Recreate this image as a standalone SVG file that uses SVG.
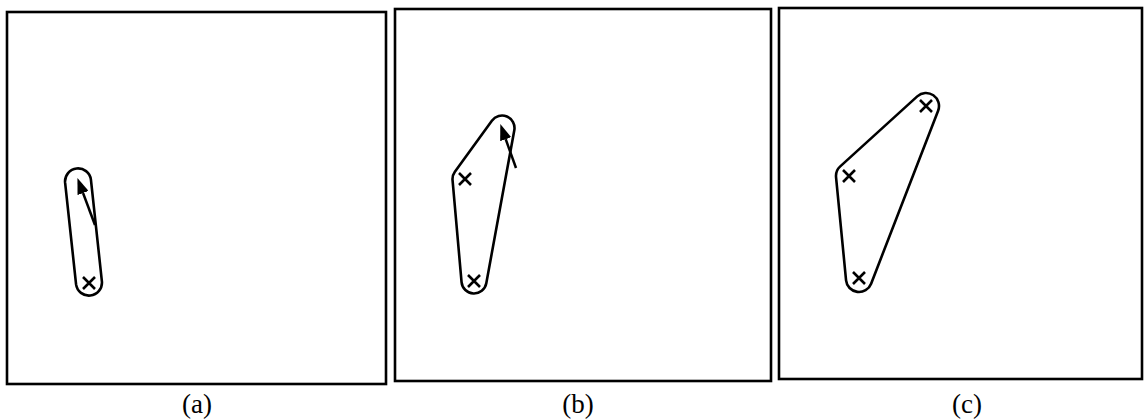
<svg xmlns="http://www.w3.org/2000/svg" width="1145" height="419" viewBox="0 0 1145 419">
<style>
.frame{fill:none;stroke:#000;stroke-width:2.6}
.hull{fill:none;stroke:#000;stroke-width:2.6;stroke-linejoin:round}
.cross{stroke:#000;stroke-width:2.6;stroke-linecap:butt}
.arr{stroke:#000;stroke-width:2.5;fill:none}
.lbl{font-family:"Liberation Serif",serif;font-size:27px;fill:#000;text-anchor:middle}
</style>
<defs>
<marker id="ah" markerUnits="userSpaceOnUse" markerWidth="16" markerHeight="12" refX="0" refY="5.5" orient="auto" viewBox="0 0 15 11">
<path d="M0,0 L15,5.5 L0,11 Z" fill="#000"/>
</marker>
<path id="x" class="cross" d="M-6,-6 L6,6 M-6,6 L6,-6"/>
</defs>
<rect fill="#fff" x="0" y="0" width="1145" height="419"/>
<g id="panel-a">
<rect class="frame" x="7" y="12" width="379" height="372"/>
<path class="hull" d="M90.92,179.61 L101.92,281.61 A13,13 0 0 1 76.08,284.39 L65.08,182.39 A13,13 0 0 1 90.92,179.61 Z"/>
<use href="#x" x="89" y="283"/>
<text class="lbl" x="197" y="413">(a)</text>
</g>
<g id="panel-b">
<rect class="frame" x="395" y="9" width="376" height="372"/>
<path class="hull" d="M514.30,130.25 L486.30,283.25 A12.5,12.5 0 0 1 461.55,282.10 L452.55,180.10 A12.5,12.5 0 0 1 454.88,171.66 L491.88,120.66 A12.5,12.5 0 0 1 514.30,130.25 Z"/>
<use href="#x" x="465" y="179"/>
<use href="#x" x="474" y="281"/>
<text class="lbl" x="578" y="413">(b)</text>
</g>
<g id="panel-c">
<rect class="frame" x="779" y="8" width="363" height="371"/>
<path class="hull" d="M938.12,110.69 L871.12,283.69 A13,13 0 0 1 846.06,280.26 L836.06,177.26 A13,13 0 0 1 840.25,166.38 L917.25,96.38 A13,13 0 0 1 938.12,110.69 Z"/>
<use href="#x" x="926" y="106"/>
<use href="#x" x="849" y="176"/>
<use href="#x" x="859" y="278"/>
<text class="lbl" x="967" y="413">(c)</text>
</g>
<g id="connectors">
<line class="arr" x1="95" y1="225" x2="83.04" y2="193.05" marker-end="url(#ah)"/>
<line class="arr" x1="516" y1="168" x2="505.7" y2="139.19" marker-end="url(#ah)"/>
</g>
</svg>
